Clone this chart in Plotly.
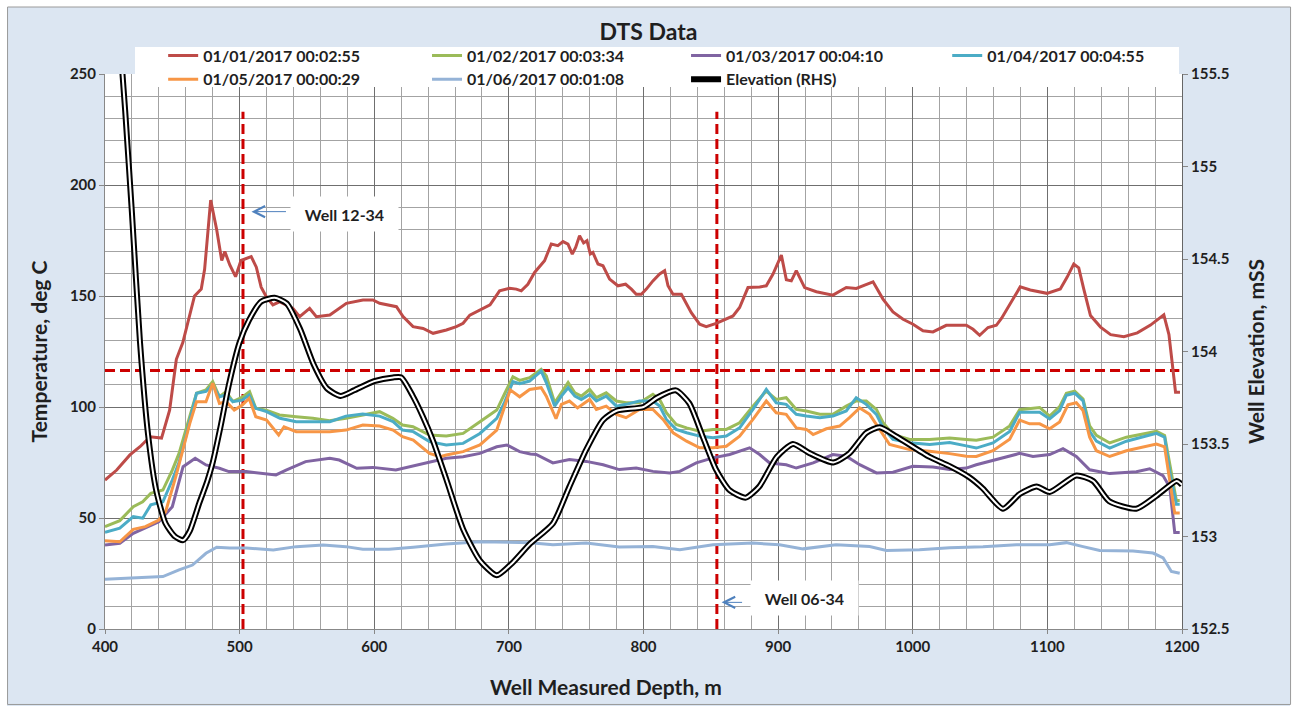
import plotly.graph_objects as go

# ---------------- data ----------------
depth_0101 = [400, 408.7, 418.5, 426, 433.5, 442, 448, 453, 457.8, 466.5, 471.5, 474, 478.5, 483, 486.7, 489,
              492.7, 497, 501, 505, 508.6, 512.4, 516, 519.8, 524.7, 529.6, 539.6, 544.6, 552, 557, 567,
              579.3, 591.6, 599, 604, 616.5, 621.4, 628.8, 636.3, 643.7, 653.6, 661, 666, 671, 678.5, 686,
              693.1, 700.5, 705.5, 709.2, 714.1, 719.1, 726.5, 731.5, 736.4, 740.2, 743.9, 747.1, 749.6,
              752.5, 755.5, 758, 760.5, 762.4, 766.2, 769.9, 774.8, 781, 786.7, 791, 794.6, 798.4, 802.1,
              807, 812, 815.7, 818.2, 821.9, 828.1, 835.5, 841.7, 846.6, 854, 866.5, 871.4, 877.6, 886.3,
              891.2, 896.2, 902.4, 906.1, 909.8, 913.5, 919.7, 928.4, 940.7, 950.6, 958.1, 964.3, 970.5,
              977.9, 985.3, 992.8, 1000.2, 1007.6, 1015, 1024.9, 1039.8, 1044.8, 1049.7, 1055.9, 1062.1,
              1066, 1072.5, 1079.8, 1087.3, 1099.7, 1109.6, 1114.6, 1119.6, 1123.3, 1127, 1132, 1139.5,
              1147, 1156.8, 1166.8, 1176.6, 1186.5, 1190.3, 1192.7, 1195.2, 1198.5]
temp_0101 = [67.1, 71.6, 78.4, 82.1, 86.6, 86.0, 98.6, 121.5, 129.0, 150.0, 153.1, 162.0, 193.2, 179.7, 166.0, 170.0,
             164.0, 158.7, 166.0, 167.0, 167.7, 163.0, 154.0, 149.7, 146.0, 147.4, 144.4, 140.7, 144.4, 140.7, 141.4,
             146.7, 148.2, 148.2, 146.7, 145.2, 140.7, 136.2, 135.4, 133.2, 134.7, 136.2, 137.7, 141.4, 143.7, 146.0,
             152.3, 153.5, 153.1, 152.3, 155.3, 160.6, 165.9, 173.4, 172.7, 174.5, 173.4, 168.9, 171.9,
             177.2, 173.9, 174.9, 168.9, 169.6, 164.4, 163.6, 157.6, 154.6, 155.3, 153.1, 150.8, 150.8, 153.1,
             156.8, 159.9, 161.4, 154.6, 150.8, 150.8, 142.5, 137.3, 136.2, 137.7, 141.0, 144.8, 153.8, 154.1,
             154.6, 159.9, 168.4, 157.3, 156.8, 161.4, 153.8, 151.9, 150.4, 153.8, 153.4, 154.9, 156.4,
             148.6, 142.8, 139.5, 137.3, 134.3, 133.8, 136.8, 136.8, 135.0, 132.3, 135.8, 136.8,
             140.0, 146.4, 154.1, 152.7, 151.2, 153.2, 158.4, 164.4, 162.7, 153.2, 141.2, 136.0,
             132.6, 131.7, 133.4, 136.9, 141.5, 132.6, 118.8, 106.7, 106.7]

depth_0102 = [400, 411, 421, 428, 434, 443, 450, 455, 460, 468, 475, 480, 485, 490, 495, 502.4, 507.4, 512, 519.8,
              529.6, 542, 554.4, 566.8, 579, 591.5, 604, 613.8, 621, 628.8, 641, 653.5, 666, 678.5, 691, 697, 703,
              708, 715.4, 724, 727.8, 734, 739, 744, 749, 753.8, 760, 765, 772.3, 779.8, 787, 797, 807, 812, 817,
              824.3, 832, 841.7, 851.6, 861.5, 871.4, 881.3, 891.2, 898.6, 906, 913.5, 921, 931, 940.7, 950.6,
              958, 965.5, 973, 978, 985.3, 997.7, 1012.6, 1027.4, 1039.8, 1047.2, 1059.6, 1072, 1079.4, 1086.8,
              1094.3, 1101.7, 1109.1, 1114.1, 1120.3, 1126.5, 1131.4, 1136.4, 1146.3, 1158.7, 1171, 1181, 1187.1,
              1190.9, 1195.8, 1198.3]
temp_0102 = [46.1, 48.8, 55.1, 57.3, 61.1, 62.6, 71.6, 79.1, 89.6, 106.2, 107.7, 111.4, 104.6, 106.9, 102.4, 104.6, 106.9,
             99.4, 98.6, 96.4, 95.6, 94.9, 93.8, 94.9, 96.4, 97.9, 94.9, 91.9, 91.1, 87.4, 86.9, 88.1, 93.4, 98.6,
             106.2, 113.6, 112.0, 113.2, 117.0, 114.0, 101.9, 106.4, 111.0, 106.4, 104.9, 107.9, 104.2, 106.4, 102.7,
             101.9, 101.9, 105.7, 103.4, 97.4, 92.1, 90.6, 89.1, 89.9, 89.9, 92.9, 100.4, 107.2, 103.4, 104.2, 98.9,
             98.2, 96.7, 96.7, 100.4, 102.7, 102.7, 98.9, 92.9, 87.6, 85.4, 85.4, 86.0, 85.4, 85.0, 86.4, 91.5, 98.8,
             99.3, 99.8, 95.9, 100.2, 106.2, 107.1, 103.6, 91.5, 87.2, 83.8, 86.4, 87.7, 89.0, 87.2, 74.3, 57.9, 57.9]

depth_0103 = [400, 411, 421, 430, 440, 450, 458, 467, 475, 485, 492, 505, 517, 527, 534.5, 549, 567, 574, 587, 599,
              616, 629, 641, 653.5, 666, 678.5, 691, 698.5, 708, 716, 720.3, 732.7, 745, 757.5, 770, 782, 794.6,
              807, 819.4, 827, 839.2, 851.6, 864, 878.8, 886.3, 893.7, 906, 913.5, 926, 940.7, 950.6, 960.6, 973,
              985.3, 1000, 1015, 1027.4, 1039.8, 1047.2, 1072, 1079.4, 1089.3, 1101.7, 1111.6, 1121.5, 1131.4,
              1146.3, 1166.1, 1176, 1185.9, 1190.9, 1194.6, 1198.3]
temp_0103 = [37.8, 38.6, 43.1, 45.4, 48.3, 55.1, 73.1, 76.9, 73.9, 72.4, 70.9, 70.9, 70.1, 69.4, 71.6, 75.4, 76.9,
             76.1, 72.4, 72.8, 71.6, 73.4, 75.4, 76.9, 77.6, 79.1, 82.1, 82.9, 79.9, 78.8, 78.6, 74.8, 76.3, 75.5,
             74.0, 71.8, 72.5, 71.0, 70.3, 71.0, 74.8, 77.1, 78.6, 81.6, 78.6, 74.8, 74.0, 72.5, 74.8, 78.6, 77.8,
             74.0, 70.3, 70.6, 73.3, 73.0, 71.9, 72.5, 74.0, 77.7, 79.1, 77.7, 78.6, 81.2, 77.7, 71.7, 70.0, 70.8,
             72.2, 69.1, 63.9, 43.5, 43.5]

depth_0104 = [400, 411, 421, 428, 434, 443, 450, 455, 460, 468, 475, 480, 485, 490, 495, 502, 507, 512, 520, 530,
              542, 554, 567, 579, 591.5, 604, 614, 621, 629, 641, 653.5, 666, 678.5, 691, 697, 703, 708, 715.4,
              724, 727.8, 734, 739, 744, 749, 753.8, 760, 765, 772.3, 779.8, 787, 797, 807, 812, 817, 824.3, 832,
              841.7, 851.6, 861.5, 871.4, 881.3, 891.2, 898.6, 906, 913.5, 921, 931, 940.7, 950.6, 958, 965.5,
              973, 978, 985.3, 997.7, 1012.6, 1027.4, 1039.8, 1047.2, 1059.6, 1072, 1079.4, 1086.8, 1094.3,
              1101.7, 1109.1, 1114.1, 1120.3, 1126.5, 1131.4, 1136.4, 1146.3, 1158.7, 1171, 1181, 1187.1,
              1190.9, 1195.8, 1198.3]
temp_0104 = [43.6, 45.4, 50.6, 49.9, 55.9, 57.3, 67.1, 75.1, 86.6, 106.2, 107.0, 109.9, 104.6, 105.4, 102.4, 103.1,
             105.4, 99.4, 97.9, 94.9, 93.4, 93.4, 93.4, 95.9, 96.8, 95.9, 93.4, 89.6, 88.9, 84.4, 82.9, 83.6, 88.1,
             94.9, 102.4, 111.4, 110.5, 111.7, 116.2, 111.0, 100.4, 104.9, 108.7, 104.9, 103.4, 105.7, 102.7,
             104.9, 100.4, 101.2, 102.7, 102.7, 100.4, 94.4, 89.9, 88.4, 86.9, 86.1, 86.9, 90.6, 98.9, 107.9,
             101.9, 101.2, 96.7, 95.9, 95.2, 95.9, 98.2, 104.2, 101.2, 96.7, 90.6, 85.4, 83.9, 83.1, 84.0, 82.5,
             81.5, 83.8, 89.0, 97.6, 97.6, 97.6, 94.6, 98.4, 105.3, 106.2, 102.8, 89.0, 84.6, 81.5, 84.6, 86.4,
             88.1, 86.4, 70.8, 56.2, 56.2]

depth_0105 = [400, 411, 421, 430, 440, 445, 452.6, 458, 463, 468, 475, 480, 485, 490, 496, 502, 507, 512, 520, 529,
              533, 542, 554, 567, 579, 591.5, 604, 614, 621, 629, 641, 649, 653.5, 666, 678.5, 691, 701, 708, 715.4,
              724, 727.8, 735, 739, 745, 751, 760, 765, 772.3, 779.8, 787, 797, 807, 814.5, 822, 832, 841.7, 851.6,
              861.5, 871.4, 881.3, 891.2, 898.6, 906, 913.5, 921, 926, 935.8, 945.7, 953, 960.6, 968, 975.4, 982.8,
              997.7, 1012.6, 1027.4, 1039.8, 1047.2, 1059.6, 1072, 1079.4, 1086.8, 1094.3, 1101.7, 1109.1, 1115.3,
              1121.5, 1126.5, 1131.4, 1136.4, 1146.3, 1158.7, 1171, 1181, 1187.1, 1190.9, 1194.6, 1198.3]
temp_0105 = [39.8, 39.3, 44.9, 46.1, 49.1, 52.8, 68.6, 80.6, 92.6, 102.4, 102.4, 110.7, 101.6, 102.4, 98.6, 100.9,
             103.9, 95.6, 94.1, 87.4, 91.1, 88.9, 88.9, 88.9, 89.6, 91.9, 91.4, 89.6, 86.6, 85.1, 79.1, 77.6, 78.4,
             79.9, 82.9, 89.6, 107.7, 104.6, 107.9, 108.7, 104.9, 94.7, 101.2, 102.7, 99.6, 103.4, 98.9, 100.4,
             96.7, 95.2, 98.9, 98.9, 94.4, 88.4, 84.6, 81.6, 81.6, 82.3, 86.9, 94.4, 102.7, 97.4, 96.7, 90.6, 89.9,
             87.6, 90.2, 91.4, 95.2, 99.6, 96.7, 89.9, 83.1, 80.8, 80.1, 79.0, 77.8, 77.7, 80.3, 85.5, 94.1, 92.4,
             92.4, 90.2, 93.3, 101.0, 101.9, 98.4, 86.4, 80.3, 77.7, 80.3, 82.0, 83.3, 82.0, 67.4, 52.2, 52.2]

depth_0106 = [400, 418.5, 443, 455, 465, 475, 483, 492.6, 505, 525, 542, 562, 579, 591.5, 611, 629, 653.5, 678.5,
              698.5, 716, 732.7, 757.5, 782, 807, 827, 851.6, 881.3, 901, 918.5, 943, 968, 980.4, 1005, 1027.4,
              1052.2, 1077, 1101.7, 1114.1, 1126.5, 1138.9, 1163.6, 1178.5, 1186, 1192.1, 1198.3]
temp_0106 = [22.4, 22.8, 23.6, 26.6, 28.8, 34.1, 36.8, 36.5, 36.5, 35.6, 37.1, 37.8, 37.1, 35.9, 35.9, 36.8, 38.3,
             39.3, 39.1, 38.9, 37.9, 38.7, 36.9, 37.2, 35.7, 37.9, 38.7, 37.9, 36.1, 37.9, 37.2, 35.4, 35.7, 36.6,
             37.1, 38.0, 38.0, 38.9, 37.1, 35.4, 35.1, 34.2, 32.0, 25.9, 25.1]

depth_elev = [400, 405, 410, 415, 420, 426, 432, 438, 445, 452, 458, 463, 470, 476, 480, 486, 492, 500, 507, 516,
              526, 535, 545, 555, 565, 575, 585, 600, 614, 620, 628.6, 636, 643.5, 653.5, 666, 678.5, 691, 703,
              715.6, 732.7, 745, 757.5, 770, 780, 800, 810, 824, 834, 844, 854, 864, 876, 886, 899, 911, 923.5,
              941, 953, 965.5, 975.4, 988, 1012.5, 1027.4, 1042, 1052, 1067, 1079.5, 1092, 1101.7, 1121.5, 1134,
              1146, 1166, 1181, 1196, 1200]
elevation = [157.0, 156.4, 155.8, 155.3, 154.75, 154.05, 153.55, 153.25, 153.07, 153.0, 152.98, 153.03, 153.18, 153.3,
             153.4, 153.6, 153.82, 154.05, 154.17, 154.27, 154.29, 154.26, 154.12, 153.93, 153.8, 153.76, 153.79,
             153.84, 153.86, 153.86, 153.76, 153.65, 153.52, 153.31, 153.04, 152.87, 152.79, 152.86, 152.96, 153.07,
             153.27, 153.47, 153.63, 153.68, 153.7, 153.75, 153.79, 153.72, 153.54, 153.36, 153.25, 153.21, 153.27,
             153.43, 153.5, 153.45, 153.4, 153.45, 153.56, 153.59, 153.54, 153.43, 153.38, 153.32, 153.26, 153.15,
             153.23, 153.27, 153.24, 153.33, 153.3, 153.19, 153.15, 153.22, 153.3, 153.28]

# well markers: name, depth, label position (depth, temperature), arrow head (depth, temperature), arrow length px
well_names = ["Well 12-34", "Well 06-34"]
well_depths = [502.5, 854.5]
well_label_x = [577.6, 919.7]
well_label_y = [187.0, 14.0]
well_arrow_x = [508.8, 858.0]
well_arrow_y = [188.0, 12.0]
well_arrow_len = [36, 22]
well_line_top = 233
temp_threshold = 116.4

FONT = "Lato"
TXT = "#1f1f1f"

series = [
    ("01/01/2017 00:02:55", depth_0101, temp_0101, "#be4b48", "legend"),
    ("01/02/2017 00:03:34", depth_0102, temp_0102, "#9bbb59", "legend2"),
    ("01/03/2017 00:04:10", depth_0103, temp_0103, "#8064a2", "legend3"),
    ("01/04/2017 00:04:55", depth_0104, temp_0104, "#4bacc6", "legend4"),
    ("01/05/2017 00:00:29", depth_0105, temp_0105, "#f79646", "legend"),
    ("01/06/2017 00:01:08", depth_0106, temp_0106, "#95b3d7", "legend2"),
]

fig = go.Figure()

# reference lines (drawn first so the curves sit on top)
for d in well_depths:
    fig.add_trace(go.Scatter(x=[d, d], y=[0, well_line_top], mode="lines", showlegend=False, hoverinfo="skip",
                             line=dict(color="#cc0000", width=3, dash="10px,5px")))
fig.add_trace(go.Scatter(x=[400, 1198], y=[temp_threshold, temp_threshold], mode="lines", showlegend=False,
                         hoverinfo="skip", line=dict(color="#cc0000", width=3, dash="10px,5px")))

for name, xs, ys, col, lg in series:
    fig.add_trace(go.Scatter(x=xs, y=ys, name=name, mode="lines", legend=lg,
                             line=dict(color=col, width=3)))

# elevation on the right-hand axis, drawn as a hollow double line
fig.add_trace(go.Scatter(x=depth_elev, y=elevation, name="Elevation (RHS)", yaxis="y2", mode="lines",
                         legend="legend3", line=dict(color="black", width=6, shape="spline", smoothing=0.6)))
fig.add_trace(go.Scatter(x=depth_elev, y=elevation, yaxis="y2", mode="lines", showlegend=False,
                         hoverinfo="skip", line=dict(color="white", width=2, shape="spline", smoothing=0.6)))

# well labels with arrows
for name, lx, ly, hx, hy, ln in zip(well_names, well_label_x, well_label_y, well_arrow_x, well_arrow_y,
                                    well_arrow_len):
    fig.add_annotation(x=lx, y=ly, xref="x", yref="y", text=name, showarrow=False,
                       bgcolor="white", width=105, height=32,
                       font=dict(family=FONT, size=16, color=TXT, weight="bold"))
    fig.add_annotation(x=hx, y=hy, xref="x", yref="y", ax=ln, ay=0, text="", showarrow=True,
                       arrowhead=5, arrowsize=2.2, arrowwidth=1, arrowcolor="#4f81bd")

leg_common = dict(orientation="v", yanchor="top", xanchor="left", bgcolor="rgba(0,0,0,0)",
                  font=dict(family=FONT, size=16, color=TXT, weight="bold"), itemwidth=30,
                  tracegroupgap=0, borderwidth=0)
leg_y = 1.064

axis_font = dict(family=FONT, size=15, color=TXT, weight="bold")
title_font = dict(family=FONT, size=21, color=TXT, weight="bold")

# x-axis title, placed as a paper annotation so it can sit left of centre
fig.add_annotation(text="Well Measured Depth, m", xref="paper", yref="paper", x=0.465, y=-0.1045,
                   xanchor="center", yanchor="middle", showarrow=False, font=title_font)

fig.update_layout(
    width=1297, height=713,
    margin=dict(l=105, r=115, t=74, b=84),
    paper_bgcolor="#dce6f2", plot_bgcolor="white",
    title=dict(text="DTS Data", x=0.5, xanchor="center", y=0.955, yanchor="middle",
               font=dict(family=FONT, size=23, color=TXT, weight="bold")),
    xaxis=dict(range=[400, 1200], dtick=100, tick0=400, showgrid=True, gridcolor="#6f6f6f", gridwidth=1,
               minor=dict(dtick=20, showgrid=True, gridcolor="#a3a3a3", gridwidth=1),
               ticks="outside", ticklen=4, tickcolor="#888", showline=True, linecolor="#888",
               tickfont=axis_font, zeroline=False),
    yaxis=dict(range=[0, 250], dtick=50, showgrid=True, gridcolor="#6f6f6f", gridwidth=1,
               minor=dict(dtick=10, showgrid=True, gridcolor="#a3a3a3", gridwidth=1),
               ticks="outside", ticklen=5, tickcolor="#888", showline=True, linecolor="#888",
               tickfont=axis_font, zeroline=False,
               title=dict(text="Temperature, deg C", font=title_font, standoff=16)),
    yaxis2=dict(range=[152.5, 155.5], dtick=0.5, overlaying="y", side="right", showgrid=False,
                ticks="outside", ticklen=5, tickcolor="#888", showline=True, linecolor="#666",
                tickfont=axis_font, zeroline=False,
                title=dict(text="Well Elevation, mSS", font=title_font, standoff=20)),
    legend=dict(x=0.054, y=leg_y, **leg_common),
    legend2=dict(x=0.299, y=leg_y, **leg_common),
    legend3=dict(x=0.5395, y=leg_y, **leg_common),
    legend4=dict(x=0.782, y=leg_y, **leg_common),
    shapes=[
        # white band at the page edge and the thin chart border
        dict(type="rect", xref="paper", yref="paper", x0=-0.09749, x1=1.10678, y0=-0.15135, y1=1.13333,
             line=dict(color="white", width=14), fillcolor="rgba(0,0,0,0)", layer="above"),
        dict(type="rect", xref="paper", yref="paper", x0=-0.0905, x1=1.1008, y0=-0.1360, y1=1.1207,
             line=dict(color="#9a9a9a", width=1), fillcolor="rgba(0,0,0,0)", layer="above"),
        # legend panel
        dict(type="rect", xref="paper", yref="paper", x0=0.02786, x1=0.99721, y0=0.9766, y1=1.0486,
             line=dict(width=0), fillcolor="white", layer="above"),
    ],
)

fig.write_html("out.html")
